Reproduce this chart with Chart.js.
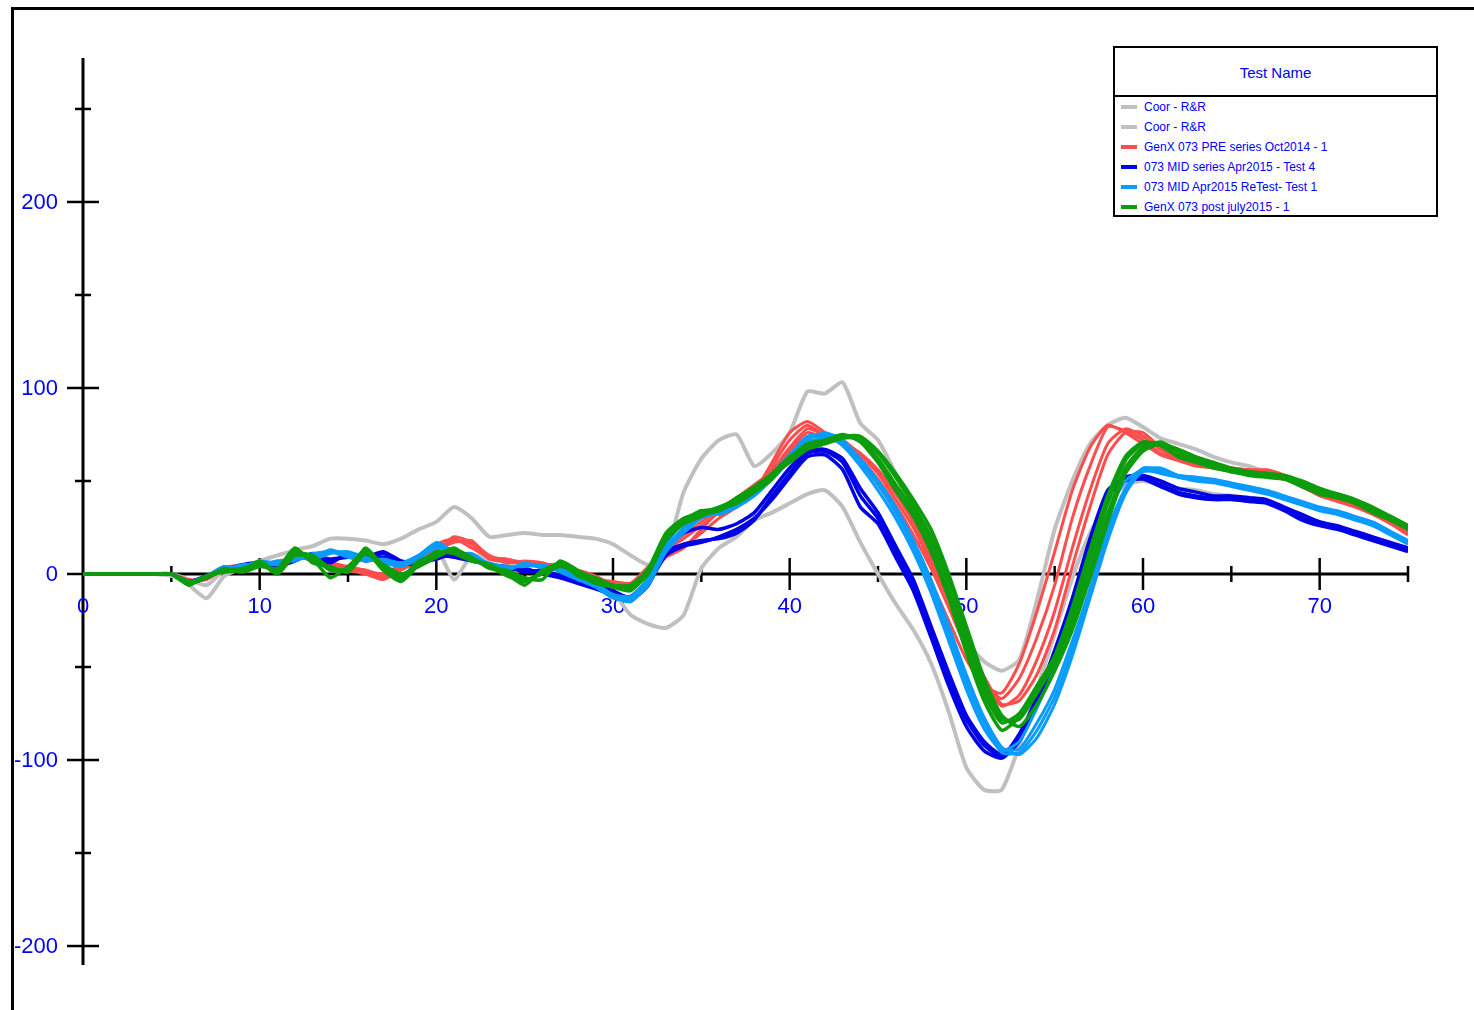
<!DOCTYPE html>
<html>
<head>
<meta charset="utf-8">
<script src="https://cdn.jsdelivr.net/npm/chart.js@4/dist/chart.umd.min.js"></script>
<style>
  html, body { margin: 0; padding: 0; background: #fff; }
  #wrap { position: relative; width: 1474px; height: 1010px; overflow: hidden; }
  #c { position: absolute; left: 0; top: 0; }
  #legend { position: absolute; left: 1113px; top: 46px; width: 321px; height: 167px;
            border: 2px solid #000; background: #fff; font-family: "Liberation Sans", Arial, sans-serif; }
  #legend .hdr { position: absolute; left: 0; top: 0; width: 321px; height: 47px; border-bottom: 2px solid #000;
                 color: #0000ff; font-size: 15px; text-align: center; line-height: 50px; }
  #legend .row { position: absolute; left: 0; height: 20px; width: 321px; }
  #legend .sw { position: absolute; left: 6px; top: 8px; width: 16px; height: 4px; }
  #legend .tx { position: absolute; left: 29px; top: 0; line-height: 20px; font-size: 12px; color: #0000ff; white-space: nowrap; }
</style>
</head>
<body>
<div id="wrap">
  <canvas id="c" width="1474" height="1010"></canvas>
  <div id="legend"></div>
</div>
<script>
// ---------- data ----------
const xValues = [0,1,2,3,4,5,6,7,8,9,10,11,12,13,14,15,16,17,18,19,20,21,22,23,24,25,26,27,28,29,
  30,31,32,33,34,35,36,37,38,39,40,41,42,43,44,45,46,47,48,49,50,51,52,53,54,55,56,57,58,59,
  60,61,62,63,64,65,66,67,68,69,70,71,72,73,74,75];

const greyA = [0,0,0,0,0,-1,-6,-13,-1,3,
  7,10,13,15,19,19,18,16,19,24,
  28,36,30,20,21,22,21,21,20,19,
  16,10,5,12,44,62,72,75,58,65,
  76,98,97,103,81,72,54,33,12,-12,
  -36,-47,-52,-46,-14,24,50,70,80,84,
  79,73,70,67,63,60,58,55,52,47,
  43,40,37,33,28,22];
const greyB = [0,0,0,0,0,0,-3,-6,2,3,
  6,4,8,10,8,10,9,8,6,9,
  14,-3,10,8,6,5,4,3,0,-4,
  -10,-22,-27,-29,-22,3,14,20,29,33,
  38,43,45,36,17,0,-16,-30,-48,-74,
  -104,-116,-116,-92,-62,-32,-2,22,38,48,
  50,48,46,45,43,42,41,39,35,31,
  28,25,22,19,16,13];

const red1 = [0,0,0,0,0,0,-4,-2,3,4,
  5,6,9,8,5,3,1,-2,3,8,
  14,18,16,8,7,6,5,4,1,-2,
  -5,-6,2,13,19,26,33,38,45,58,
  72,80,74,70,62,51,37,21,3,-18,
  -40,-58,-67,-56,-34,-6,30,58,79,77,
  72,65,62,59,57,56,56,55,52,47,
  43,40,37,33,28,22];
const red2 = [0,0,0,0,0,0,-5,-1,4,3,
  6,5,10,7,6,4,2,0,5,9,
  16,19,14,9,8,5,4,3,0,-3,
  -4,-5,4,10,15,22,30,36,44,60,
  76,82,76,69,60,48,34,16,-4,-25,
  -46,-60,-64,-48,-20,12,45,68,80,76,
  70,64,61,58,57,56,55,54,51,47,
  42,39,36,32,27,21];
const red3 = [0,0,0,0,0,0,-4,-2,2,4,
  4,7,8,9,4,2,0,-3,2,7,
  12,20,17,10,6,7,6,3,2,-1,
  -6,-7,0,9,14,24,34,40,47,56,
  68,78,75,72,64,54,40,25,6,-14,
  -36,-57,-71,-65,-46,-20,14,45,70,78,
  74,67,63,60,58,57,56,56,53,48,
  44,41,38,34,29,23];
const red4 = [0,0,0,0,0,0,-3,-3,3,5,
  5,6,9,10,6,3,2,-1,4,8,
  13,17,18,9,8,6,5,5,1,-2,
  -5,-5,3,14,21,28,35,41,48,55,
  66,76,73,71,65,56,43,28,9,-12,
  -34,-55,-70,-68,-54,-30,4,36,64,76,
  76,68,64,61,59,57,56,55,53,49,
  45,42,38,35,30,24];

const blue1 = [0,0,0,0,0,0,-5,-2,3,4,
  5,4,7,11,7,10,8,11,6,5,
  9,10,8,4,3,2,1,-1,-4,-7,
  -10,-14,-6,12,16,18,19,22,29,42,
  54,65,66,60,42,30,12,-6,-30,-56,
  -78,-92,-98,-86,-66,-41,-13,19,45,51,
  52,48,44,42,41,41,40,39,35,30,
  27,25,22,19,16,13];
const blue2 = [0,0,0,0,0,0,-4,-1,2,5,
  6,3,9,9,6,11,7,9,5,7,
  10,9,7,5,2,3,0,-2,-5,-8,
  -11,-12,-3,14,22,25,24,27,33,45,
  57,66,67,62,46,33,15,-3,-28,-53,
  -76,-90,-97,-88,-68,-44,-16,16,43,52,
  53,50,46,44,42,42,41,40,36,32,
  28,26,23,20,17,14];
const blue3 = [0,0,0,0,0,0,-5,-2,3,3,
  5,5,8,10,8,9,9,12,7,6,
  8,11,9,5,4,1,2,-1,-3,-6,
  -9,-13,-5,10,15,17,20,24,30,40,
  52,63,64,56,36,27,9,-9,-34,-60,
  -82,-95,-99,-90,-70,-46,-18,14,42,50,
  51,47,43,41,40,40,39,38,34,29,
  26,24,21,18,15,12];

const lblue1 = [0,0,0,0,0,0,-5,-1,3,4,
  6,6,8,9,13,10,8,7,5,10,
  16,12,10,4,3,5,4,2,-2,-6,
  -12,-13,-4,14,25,34,32,36,43,52,
  63,73,74,70,60,48,33,15,-6,-32,
  -58,-80,-94,-94,-80,-62,-36,-8,22,45,
  55,55,52,51,50,48,46,44,41,38,
  35,33,30,27,22,17];
const lblue2 = [0,0,0,0,0,0,-4,-2,2,5,
  5,7,7,11,12,9,7,8,6,9,
  14,13,9,6,4,4,5,1,-3,-7,
  -13,-14,-6,12,22,30,33,37,44,53,
  62,71,73,71,62,50,36,18,-3,-28,
  -54,-77,-93,-97,-88,-70,-44,-13,18,43,
  56,57,53,52,51,49,47,45,42,39,
  36,34,31,28,23,18];
const lblue3 = [0,0,0,0,0,0,-5,-1,4,3,
  6,5,9,8,11,12,9,6,4,8,
  15,11,11,5,2,6,3,3,-1,-5,
  -11,-12,-2,16,28,33,34,38,45,54,
  64,74,75,69,58,45,30,12,-10,-36,
  -62,-83,-95,-90,-72,-50,-24,5,33,50,
  56,54,52,50,49,47,45,43,40,37,
  34,32,29,26,21,16];
const lblue4 = [0,0,0,0,0,0,-4,-1,3,4,
  7,6,8,10,12,11,8,7,6,10,
  17,12,9,5,3,5,5,2,-2,-6,
  -12,-15,-5,13,24,31,33,36,42,51,
  61,72,76,72,61,49,34,16,-5,-30,
  -56,-79,-96,-96,-84,-66,-40,-8,24,46,
  57,56,53,52,50,48,46,44,41,38,
  35,33,30,26,22,17];

const green1 = [0,0,0,0,0,0,-5,-1,1,2,
  6,0,10,9,2,3,13,3,-3,6,
  11,12,8,4,-1,-4,1,6,-1,-4,
  -7,-8,0,20,28,32,34,39,45,52,
  61,69,71,74,72,62,48,34,16,-9,
  -37,-64,-80,-75,-60,-45,-21,9,38,61,
  70,70,64,61,58,55,54,53,52,48,
  44,42,39,34,30,25];
const green2 = [0,0,0,0,0,0,-5,-2,3,1,
  4,3,14,6,4,1,11,5,0,4,
  9,13,9,3,2,-2,-3,7,2,-3,
  -6,-6,3,22,30,33,36,40,46,53,
  60,67,70,73,73,65,52,37,20,-4,
  -32,-60,-78,-78,-64,-48,-26,3,32,57,
  68,71,66,62,59,56,55,54,53,49,
  45,43,40,35,31,26];
const green3 = [0,0,0,0,0,0,-6,-1,2,3,
  5,2,12,8,-2,4,12,2,-4,5,
  12,11,7,5,0,-6,2,5,0,-5,
  -7,-9,1,18,27,31,35,38,44,51,
  62,70,72,75,71,60,45,31,12,-13,
  -42,-68,-84,-77,-61,-44,-18,13,42,63,
  71,69,63,60,57,55,53,52,51,47,
  43,41,38,33,29,24];
const green4 = [0,0,0,0,0,0,-4,-2,2,2,
  7,1,11,10,3,2,14,4,-2,7,
  10,14,8,5,1,-3,0,4,1,-2,
  -6,-7,2,21,29,34,35,41,47,54,
  63,68,72,74,74,66,54,40,24,0,
  -28,-56,-76,-82,-70,-52,-30,-2,28,54,
  66,70,67,63,60,57,55,54,53,50,
  46,43,40,36,31,26];

const legendNames = ["Coor - R&R", "Coor - R&R", "GenX 073 PRE series Oct2014 - 1",
  "073 MID series Apr2015 - Test 4", "073 MID Apr2015 ReTest- Test 1", "GenX 073 post july2015 - 1"];
const legendColors = ["#c0c0c0", "#c0c0c0", "#ff4d4d", "#0000e6", "#0a9bff", "#0c9c0c"];

const yMajorTicks = [-200, -100, 0, 100, 200];
const yMinorTicks = [-150, -50, 50, 150, 250];
const xMajorTicks = [10, 20, 30, 40, 50, 60, 70];
const xMinorTicks = [5, 15, 25, 35, 45, 55, 65, 75];
const xLabelTicks = [0, 10, 20, 30, 40, 50, 60, 70];

// ---------- build ----------
const groups = [
  { color: legendColors[0], order: 6, width: 4, series: [greyA] },
  { color: legendColors[1], order: 6, width: 4, series: [greyB] },
  { color: legendColors[2], order: 5, width: 3, series: [red1, red2, red3, red4] },
  { color: legendColors[3], order: 4, width: 3.5, series: [blue1, blue2, blue3] },
  { color: legendColors[4], order: 3, width: 3, series: [lblue1, lblue2, lblue3, lblue4] },
  { color: legendColors[5], order: 2, width: 3.5, series: [green1, green2, green3, green4] }
];
const datasets = [];
groups.forEach((g, gi) => {
  g.series.forEach((s, si) => {
    datasets.push({
      label: legendNames[gi] + ' ' + (si + 1),
      data: xValues.map((x, i) => ({ x: x, y: s[i] })),
      borderColor: g.color,
      borderWidth: g.width,
      order: g.order,
      pointRadius: 0,
      tension: 0.2,
      fill: false
    });
  });
});

const FONT = '"Liberation Sans", Arial, sans-serif';
const axesPlugin = {
  id: 'axesPlugin',
  beforeDatasetsDraw(chart) {
    const ctx = chart.ctx;
    const xs = chart.scales.x, ys = chart.scales.y;
    const x0 = xs.getPixelForValue(0), y0 = ys.getPixelForValue(0);
    ctx.save();
    ctx.strokeStyle = '#000';
    ctx.lineCap = 'butt';
    // outer frame (top + left)
    ctx.lineWidth = 3;
    ctx.beginPath();
    ctx.moveTo(12.5, 1010); ctx.lineTo(12.5, 8.5); ctx.lineTo(1474, 8.5);
    ctx.stroke();
    // y axis
    ctx.beginPath(); ctx.moveTo(x0, ys.top); ctx.lineTo(x0, ys.bottom); ctx.stroke();
    // x axis
    ctx.beginPath(); ctx.moveTo(x0, y0); ctx.lineTo(xs.right, y0); ctx.stroke();
    // ticks
    ctx.lineWidth = 2.5;
    yMajorTicks.forEach(v => { const p = ys.getPixelForValue(v); ctx.beginPath(); ctx.moveTo(x0 - 16, p); ctx.lineTo(x0 + 16, p); ctx.stroke(); });
    yMinorTicks.forEach(v => { const p = ys.getPixelForValue(v); ctx.beginPath(); ctx.moveTo(x0 - 8, p); ctx.lineTo(x0 + 8, p); ctx.stroke(); });
    xMajorTicks.forEach(v => { const p = xs.getPixelForValue(v); ctx.beginPath(); ctx.moveTo(p, y0 - 16); ctx.lineTo(p, y0 + 16); ctx.stroke(); });
    xMinorTicks.forEach(v => { const p = xs.getPixelForValue(v); ctx.beginPath(); ctx.moveTo(p, y0 - 8); ctx.lineTo(p, y0 + 8); ctx.stroke(); });
    // labels
    ctx.fillStyle = '#0000ff';
    ctx.font = '22px ' + FONT;
    ctx.textAlign = 'right'; ctx.textBaseline = 'middle';
    yMajorTicks.forEach(v => ctx.fillText(String(v), x0 - 25, ys.getPixelForValue(v) + 1));
    ctx.textAlign = 'center';
    xLabelTicks.forEach(v => ctx.fillText(String(v), xs.getPixelForValue(v), y0 + 33));
    ctx.restore();
  }
};

new Chart(document.getElementById('c'), {
  type: 'line',
  data: { datasets: datasets },
  options: {
    responsive: false,
    animation: false,
    devicePixelRatio: 1,
    layout: { padding: { left: 83, top: 58, right: 66, bottom: 45 } },
    plugins: { legend: { display: false }, tooltip: { enabled: false } },
    scales: {
      x: { type: 'linear', min: 0, max: 75, display: false },
      y: { type: 'linear', min: -210.2, max: 277.4, display: false }
    }
  },
  plugins: [axesPlugin]
});

// ---------- legend ----------
const lg = document.getElementById('legend');
const hdr = document.createElement('div');
hdr.className = 'hdr'; hdr.textContent = 'Test Name';
lg.appendChild(hdr);
legendNames.forEach((n, i) => {
  const r = document.createElement('div');
  r.className = 'row';
  r.style.top = (49 + i * 20) + 'px';
  const sw = document.createElement('div'); sw.className = 'sw'; sw.style.background = legendColors[i];
  const tx = document.createElement('div'); tx.className = 'tx'; tx.textContent = n;
  r.appendChild(sw); r.appendChild(tx);
  lg.appendChild(r);
});
</script>
</body>
</html>
